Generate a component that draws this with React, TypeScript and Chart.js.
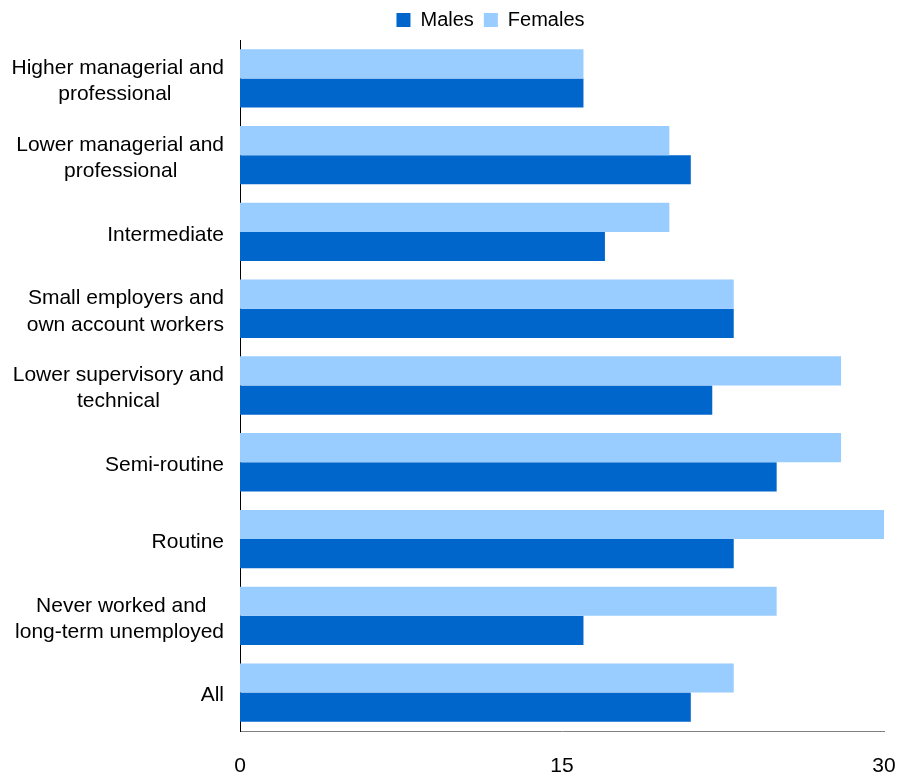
import React, { useEffect, useRef } from "react";
import { Chart, registerables } from "chart.js";

Chart.register(...registerables);

const categories: string[][] = [
  ["Higher managerial and", "professional"],
  ["Lower managerial and", "professional"],
  ["Intermediate"],
  ["Small employers and", "own account workers"],
  ["Lower supervisory and", "technical"],
  ["Semi-routine"],
  ["Routine"],
  ["Never worked and", "long-term unemployed"],
  ["All"],
];
const males = [16, 21, 17, 23, 22, 25, 23, 16, 21];
const females = [16, 20, 20, 23, 28, 28, 30, 25, 23];
const xTicks = [0, 15, 30];

const FONT_FAMILY = "'Liberation Sans', Arial, Helvetica, sans-serif";
const LABEL_SIZE = 21;
const LEGEND_SIZE = 20;

// Pad shorter lines so that multi-line labels appear centred line-by-line
// while the label block stays right-aligned against the axis.
function centreLines(lines: string[]): string[] {
  if (lines.length < 2) return lines;
  const c = document.createElement("canvas").getContext("2d");
  if (!c) return lines;
  c.font = `${LABEL_SIZE}px ${FONT_FAMILY}`;
  const widths = lines.map((l) => c.measureText(l).width);
  const maxW = Math.max(...widths);
  const sp = c.measureText(" ").width || 5;
  return lines.map((l, i) => {
    const n = Math.round((maxW - widths[i]) / 2 / sp);
    return l + " ".repeat(Math.max(0, n));
  });
}

const legendShift = {
  id: "legendShift",
  afterLayout(chart: any) {
    const l = chart.legend;
    if (l) {
      l.left += 41;
      l.right += 41;
    }
  },
};

export default function App() {
  const ref = useRef<HTMLCanvasElement | null>(null);

  useEffect(() => {
    if (!ref.current) return;
    const labels = categories.map(centreLines);
    const chart = new Chart(ref.current, {
      type: "bar",
      data: {
        labels,
        datasets: [
          {
            label: "Females",
            data: females,
            backgroundColor: "#99CCFF",
            borderWidth: 0,
            categoryPercentage: 0.76,
            barPercentage: 1,
          },
          {
            label: "Males",
            data: males,
            backgroundColor: "#0066CC",
            borderWidth: 0,
            categoryPercentage: 0.76,
            barPercentage: 1,
          },
        ],
      },
      options: {
        indexAxis: "y",
        responsive: false,
        animation: false,
        layout: { padding: { left: 0, right: 0, top: 0, bottom: 0 } },
        plugins: {
          legend: {
            position: "top",
            reverse: true,
            labels: {
              boxWidth: 14,
              boxHeight: 14,
              padding: 10,
              color: "#000",
              font: { family: FONT_FAMILY, size: LEGEND_SIZE },
            },
          },
          tooltip: { enabled: false },
        },
        scales: {
          x: {
            min: 0,
            max: 30,
            grid: { display: false, drawTicks: false },
            border: { display: true, color: "#808080", width: 1 },
            afterFit: (scale: any) => {
              scale.height = 44;
              scale.paddingRight = 15;
            },
            ticks: {
              stepSize: 15,
              padding: 23,
              color: "#000",
              font: { family: FONT_FAMILY, size: LABEL_SIZE },
              callback: (v: any) => (xTicks.includes(Number(v)) ? String(v) : ""),
              maxRotation: 0,
            },
          },
          y: {
            grid: { display: false, drawTicks: false },
            border: { display: true, color: "#000", width: 1 },
            afterFit: (scale: any) => {
              scale.width = 240;
            },
            ticks: {
              padding: 16,
              labelOffset: 3,
              color: "#000",
              autoSkip: false,
              font: { family: FONT_FAMILY, size: LABEL_SIZE, lineHeight: 1.25 },
            },
          },
        },
      },
      plugins: [legendShift],
    });
    return () => chart.destroy();
  }, []);

  return (
    <div style={{ position: "absolute", left: 0, top: 0, width: 899, height: 775, background: "#fff" }}>
      <canvas ref={ref} width={899} height={775} style={{ display: "block" }} />
    </div>
  );
}
